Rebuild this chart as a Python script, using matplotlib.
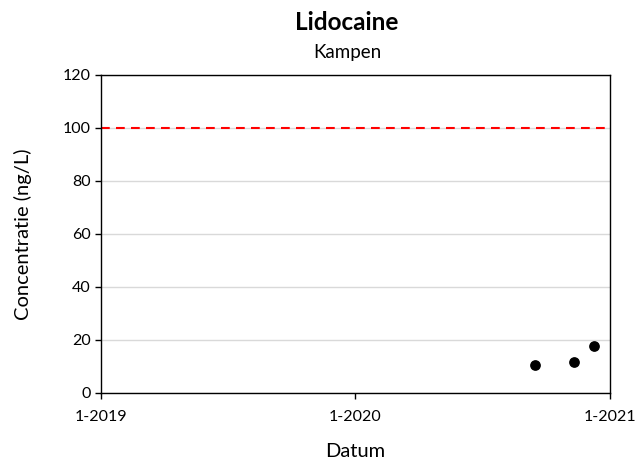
import numpy as np
import pandas as pd
import matplotlib
matplotlib.use('Agg')
import matplotlib.pyplot as plt
import matplotlib.dates as mdates

# data
datums = ['2020-09-15', '2020-11-11', '2020-12-09']
concentraties = [10.5, 11.8, 17.7]
norm = 100
x_ticks = ['2019-01-01', '2020-01-01', '2021-01-01']
x_labels = ['1-2019', '1-2020', '1-2021']
y_ticks = [0, 20, 40, 60, 80, 100, 120]

plt.rcParams['font.family'] = ['Lato', 'DejaVu Sans']

fig = plt.figure(figsize=(6.37, 4.62), dpi=100)
ax = fig.add_axes([0.1586, 0.1494, 0.9576 - 0.1586, 0.8377 - 0.1494])

x = pd.to_datetime(datums)
ax.scatter(x, concentraties, s=45, color='black', zorder=3)
ax.axhline(norm, color='#ff0000', linestyle=(0, (4.2, 3.0)), linewidth=1.5, zorder=2)

ax.set_xlim(pd.Timestamp(x_ticks[0]), pd.Timestamp(x_ticks[-1]))
ax.set_ylim(0, 120)
ax.set_xticks(pd.to_datetime(x_ticks))
ax.set_xticklabels(x_labels)
ax.set_yticks(y_ticks)
ax.yaxis.grid(True, color='#d9d9d9', linewidth=1)
ax.set_axisbelow(True)

for s in ax.spines.values():
    s.set_color('black')
    s.set_linewidth(1)
ax.tick_params(axis='both', labelsize=11.5, length=4, width=1, colors='black')
ax.tick_params(axis='x', pad=8)

ax.set_xlabel('Datum', fontsize=14.5, labelpad=14)
ax.set_ylabel('Concentratie (ng/L)', fontsize=14.5, labelpad=22)

fig.text(0.545, 0.952, 'Lidocaine', ha='center', va='center', fontsize=17.5, fontweight='bold')
fig.text(0.545, 0.887, 'Kampen', ha='center', va='center', fontsize=13.5)

fig.savefig('out.png', dpi=100)
